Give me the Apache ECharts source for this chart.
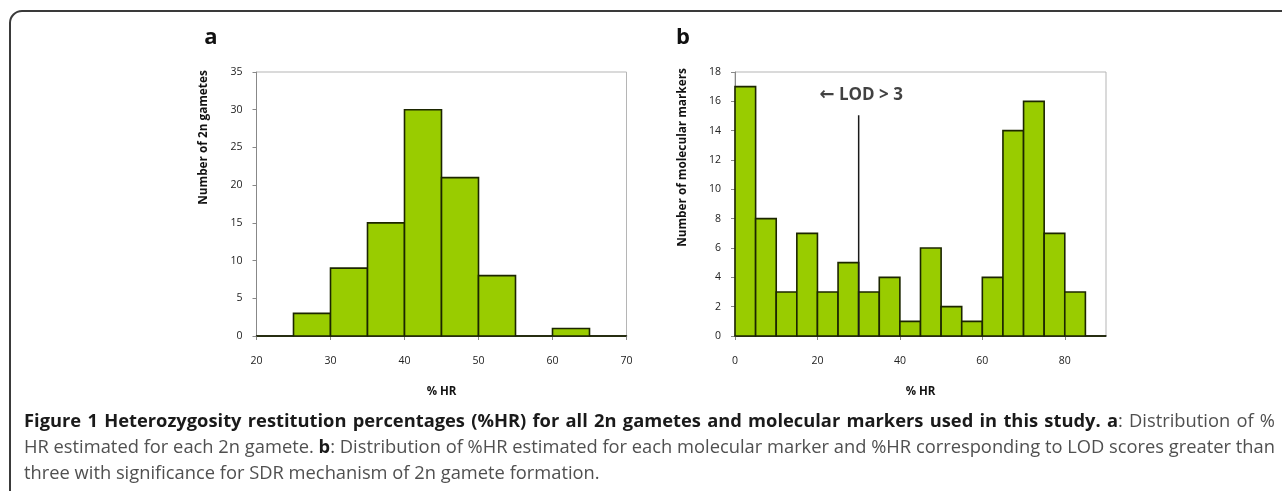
<!DOCTYPE html>
<html><head><meta charset="utf-8">
<script src="https://cdn.jsdelivr.net/npm/echarts/dist/echarts.min.js"></script>
<style>
html,body{margin:0;padding:0;background:#fff;}
#chart{position:absolute;left:0;top:0;width:1282px;height:491px;}
#cap{position:absolute;left:24px;top:407px;font-family:"Open Sans",sans-serif;font-size:17px;color:#505050;}
#cap .ln{height:26px;line-height:26px;white-space:nowrap;}
#cap b{color:#1a1a1a;font-weight:700;}
</style></head>
<body>
<div id="chart"></div>
<div id="cap">
<div class="ln" data-w="1251"><b>Figure 1 Heterozygosity restitution percentages (%HR) for all 2n gametes and molecular markers used in this study. a</b>: Distribution of %</div>
<div class="ln" data-w="1251">HR estimated for each 2n gamete. <b>b</b>: Distribution of %HR estimated for each molecular marker and %HR corresponding to LOD scores greater than</div>
<div class="ln" id="last">three with significance for SDR mechanism of 2n gamete formation.</div>
</div>
<script>
// ---- data ----
const binWidth = 5;
const binsA = [20, 25, 30, 35, 40, 45, 50, 55, 60, 65];
const countsA = [0, 3, 9, 15, 30, 21, 8, 0, 1, 0];
const binsB = [0, 5, 10, 15, 20, 25, 30, 35, 40, 45, 50, 55, 60, 65, 70, 75, 80, 85];
const countsB = [17, 8, 3, 7, 3, 5, 3, 4, 1, 6, 2, 1, 4, 14, 16, 7, 3, 0];
const lodX = 30;
const lodLine = [[lodX, 15.05], [lodX, 0]];
const lodLabel = [[30.6, 16.4]];
const xTitle = '% HR';
const yTitleA = 'Number of 2n gametes';
const yTitleB = 'Number of molecular markers';

const chart = echarts.init(document.getElementById('chart'), null, {renderer: 'canvas'});
const FONT = '"Open Sans", sans-serif';

function renderHist(params, api) {
  const x0 = api.value(0), x1 = api.value(1), y = api.value(2);
  const p0 = api.coord([x0, y]);
  const p1 = api.coord([x1, 0]);
  return {
    type: 'rect',
    shape: {x: p0[0], y: p0[1], width: p1[0] - p0[0], height: p1[1] - p0[1]},
    style: {fill: '#99cc00', stroke: '#1c2600', lineWidth: 1.6}
  };
}

function xAxisCfg(idx, min, max, interval) {
  return {
    type: 'value', gridIndex: idx, min: min, max: max, interval: interval,
    name: xTitle, nameLocation: 'middle', nameGap: 50,
    nameTextStyle: {fontFamily: FONT, fontWeight: 'bold', fontSize: 11.5, color: '#111'},
    axisLine: {show: true, lineStyle: {color: '#1a1a1a', width: 1.5}},
    axisTick: {show: true, length: 4, lineStyle: {color: '#888'}},
    axisLabel: {margin: 20, fontFamily: FONT, fontSize: 10.5, color: '#222', showMaxLabel: idx === 0},
    splitLine: {show: false}
  };
}
function yAxisCfg(idx, max, interval) {
  return {
    type: 'value', gridIndex: idx, min: 0, max: max, interval: interval,
    axisLine: {show: true, lineStyle: {color: '#888'}},
    axisTick: {show: true, length: 4, lineStyle: {color: '#888'}},
    axisLabel: {margin: 14, fontFamily: FONT, fontSize: 10.5, color: '#222'},
    splitLine: {show: false}
  };
}

chart.setOption({
  animation: false,
  grid: [
    {left: 256.5, top: 72, width: 370, height: 264, show: true, borderColor: '#b5b5b5', borderWidth: 1},
    {left: 735, top: 72, width: 371, height: 264, show: true, borderColor: '#b5b5b5', borderWidth: 1}
  ],
  xAxis: [xAxisCfg(0, 20, 70, 10), xAxisCfg(1, 0, 90, 20)],
  yAxis: [yAxisCfg(0, 35, 5), yAxisCfg(1, 18, 2)],
  series: [
    {type: 'custom', xAxisIndex: 0, yAxisIndex: 0, renderItem: renderHist,
     encode: {x: [0, 1], y: 2}, clip: false,
     data: binsA.map((b, i) => [b, b + binWidth, countsA[i]])},
    {type: 'custom', xAxisIndex: 1, yAxisIndex: 1, renderItem: renderHist,
     encode: {x: [0, 1], y: 2}, clip: false,
     data: binsB.map((b, i) => [b, b + binWidth, countsB[i]])},
    {type: 'line', xAxisIndex: 1, yAxisIndex: 1, data: lodLine, symbol: 'none', z: 5,
     lineStyle: {color: '#1a1a1a', width: 1.5}, silent: true},
    {type: 'scatter', xAxisIndex: 1, yAxisIndex: 1, data: lodLabel, symbolSize: 1,
     itemStyle: {color: 'rgba(0,0,0,0)'}, silent: true,
     label: {show: true, position: 'inside', formatter: '{arr|\u2190} LOD > 3',
             fontFamily: FONT, fontWeight: 'bold', fontSize: 17, color: '#111',
             rich: {arr: {fontFamily: '"DejaVu Sans", sans-serif', fontWeight: 'bold', fontSize: 18, color: '#111'}}}}
  ],
  graphic: [
    {type: 'rect', shape: {x: 10, y: 11, width: 1500, height: 700, r: 12},
     style: {fill: 'none', stroke: '#3a3a3a', lineWidth: 2}, silent: true},
    {type: 'text', x: 211, y: 38, style: {text: 'a', font: 'bold 22px ' + FONT, fill: '#111', align: 'center', verticalAlign: 'middle'}},
    {type: 'text', x: 683, y: 38, style: {text: 'b', font: 'bold 22px ' + FONT, fill: '#111', align: 'center', verticalAlign: 'middle'}},
    {type: 'text', x: 203.5, y: 137.5, rotation: Math.PI / 2,
     style: {text: yTitleA, font: 'bold 11.8px ' + FONT, fill: '#111', align: 'center', verticalAlign: 'middle'}},
    {type: 'text', x: 683, y: 157.5, rotation: Math.PI / 2,
     style: {text: yTitleB, font: 'bold 11.8px ' + FONT, fill: '#111', align: 'center', verticalAlign: 'middle'}}
  ]
});

// size the caption so its last line matches the reference width, then justify full lines
(function () {
  const cap = document.getElementById('cap');
  const last = document.getElementById('last');
  last.style.display = 'inline-block';
  const w0 = last.getBoundingClientRect().width;
  last.style.display = 'block';
  cap.style.fontSize = (17 * 576 / w0) + 'px';
  document.querySelectorAll('#cap .ln').forEach(function (ln) {
    const target = parseFloat(ln.getAttribute('data-w'));
    if (!target) return;
    ln.style.display = 'inline-block';
    const w = ln.getBoundingClientRect().width;
    const spaces = (ln.textContent.match(/ /g) || []).length;
    ln.style.display = 'block';
    if (spaces) ln.style.wordSpacing = ((target - w) / spaces) + 'px';
  });
})();
</script>
</body></html>
